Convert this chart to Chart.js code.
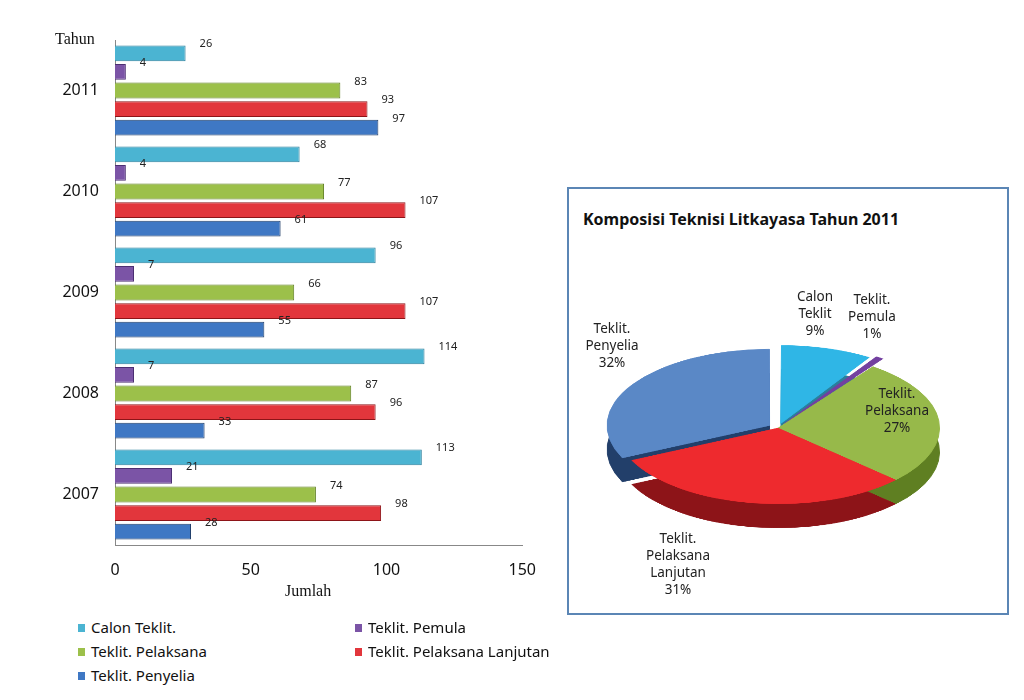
<!DOCTYPE html>
<html lang="id">
<head>
<meta charset="UTF-8">
<title>Teknisi Litkayasa</title>
<script src="https://cdn.jsdelivr.net/npm/chart.js"></script>
<style>
  body { margin: 0; width: 1024px; height: 700px; background: #fff; position: relative; font-family: "Noto Sans", sans-serif; overflow: hidden; }
  .abs { position: absolute; }
  .serif { font-family: "Liberation Serif", serif; font-size: 16px; color: #111; }
  #pieBox { left: 567px; top: 187px; width: 438px; height: 424px; border: 2px solid #5b86b5; }
  #pieTitle { left: 583px; top: 208px; font-weight: bold; font-size: 16px; color: #111; }
  .plab { position: absolute; font-size: 13.5px; line-height: 17px; text-align: center; color: #222; transform: translateX(-50%); white-space: nowrap; }
  .pie { position: absolute; left: 588px; top: 238px; width: 380px; height: 380px; transform: scaleY(0.47); }
  .leg { position: absolute; font-size: 15px; color: #111; }
  .leg i { display: inline-block; width: 7px; height: 8px; margin-right: 6px; vertical-align: 1px; }
</style>
</head>
<body>
<div class="abs" style="left:0;top:0;width:552px;height:600px"><canvas id="barChart"></canvas></div>
<div class="abs serif" style="left:55px;top:30px">Tahun</div>
<div class="abs serif" style="left:285px;top:582px">Jumlah</div>

<div class="abs" id="pieBox"></div>
<div class="abs" id="pieTitle">Komposisi Teknisi Litkayasa Tahun 2011</div>
<div class="pie" style="top:262px"><canvas id="pieDepth"></canvas></div>
<div class="pie"><canvas id="pieChart"></canvas></div>
<div id="pieLabels"></div>

<div id="legend"></div>

<script>
// Data
const years = ['2011', '2010', '2009', '2008', '2007'];
const seriesNames = ['Calon Teklit.', 'Teklit. Pemula', 'Teklit. Pelaksana', 'Teklit. Pelaksana Lanjutan', 'Teklit. Penyelia'];
const calon = [26, 68, 96, 114, 113];
const pemula = [4, 4, 7, 7, 21];
const pelaksana = [83, 77, 66, 87, 74];
const lanjutan = [93, 107, 107, 96, 98];
const penyelia = [97, 61, 55, 33, 28];
const xTicks = [0, 50, 100, 150];

const pieLabels = ['Calon\nTeklit\n9%', 'Teklit.\nPemula\n1%', 'Teklit.\nPelaksana\n27%', 'Teklit.\nPelaksana\nLanjutan\n31%', 'Teklit.\nPenyelia\n32%'];
const pieValues = [9, 1, 27, 31, 32];

const colors = ['#4bb4d2', '#7b54a6', '#9cc04a', '#e2363c', '#3f78c4'];
const darkColors = ['#2a7f9c', '#4c2f72', '#5f7f22', '#8d1418', '#223f6a'];
const pieColors = ['#2fb6e6', '#7340a0', '#97b94a', '#ee2a2e', '#5a88c6'];

// Bar chart
const valueLabels = {
    id: 'valueLabels',
    afterDatasetsDraw(chart) {
        const ctx = chart.ctx;
        ctx.save();
        ctx.font = '11px "Noto Sans"';
        ctx.fillStyle = '#222';
        ctx.textBaseline = 'middle';
        chart.data.datasets.forEach((ds, i) => {
            chart.getDatasetMeta(i).data.forEach((bar, j) => {
                ctx.fillText(ds.data[j], bar.x + 14, bar.y - 9);
            });
        });
        ctx.restore();
    }
};

const seriesData = [calon, pemula, pelaksana, lanjutan, penyelia];
new Chart(document.getElementById('barChart'), {
    type: 'bar',
    data: {
        labels: years,
        datasets: seriesData.map((d, i) => ({
            label: seriesNames[i],
            data: d,
            backgroundColor: colors[i],
            borderColor: darkColors[i],
            borderWidth: 1,
            categoryPercentage: 0.92,
            barPercentage: 0.85
        }))
    },
    options: {
        indexAxis: 'y',
        responsive: true,
        maintainAspectRatio: false,
        animation: false,
        layout: { padding: { right: 20, top: 40 } },
        plugins: { legend: { display: false }, tooltip: { enabled: false } },
        scales: {
            x: {
                min: 0, max: 150,
                afterBuildTicks: s => { s.ticks = xTicks.map(v => ({ value: v })); },
                afterFit: s => { s.height = 55; },
                grid: { display: false, drawTicks: false },
                border: { color: '#888' },
                ticks: { color: '#111', font: { size: 16, family: '"Noto Sans"' }, padding: 16 }
            },
            y: {
                afterFit: s => { s.width = 115; },
                grid: { display: false, drawTicks: false },
                border: { color: '#888' },
                ticks: { color: '#111', font: { size: 16, family: '"Noto Sans"' }, padding: 16 }
            }
        }
    },
    plugins: [valueLabels]
});

// Pie charts (top face + darker depth layer)
const offsets = [40, 40, 0, 0, 40];
function pieConfig(cols) {
    return {
        type: 'pie',
        data: { labels: pieLabels, datasets: [{ data: pieValues, backgroundColor: cols, borderColor: cols, borderWidth: 1, offset: offsets }] },
        options: {
            responsive: true, maintainAspectRatio: true, aspectRatio: 1, animation: false,
            layout: { padding: 8 },
            plugins: { legend: { display: false }, tooltip: { enabled: false } }
        }
    };
}
new Chart(document.getElementById('pieDepth'), pieConfig(darkColors));
new Chart(document.getElementById('pieChart'), pieConfig(pieColors));

const labelPos = [[815, 288], [872, 291], [897, 385], [678, 530], [612, 320]];
const pl = document.getElementById('pieLabels');
pieLabels.forEach((t, i) => {
    const d = document.createElement('div');
    d.className = 'plab';
    d.style.left = labelPos[i][0] + 'px';
    d.style.top = labelPos[i][1] + 'px';
    d.innerHTML = t.split('\n').join('<br>');
    pl.appendChild(d);
});

// Legend
const legPos = [[78, 617], [355, 617], [78, 641], [355, 641], [78, 665]];
const lg = document.getElementById('legend');
seriesNames.forEach((n, i) => {
    const d = document.createElement('div');
    d.className = 'leg';
    d.style.left = legPos[i][0] + 'px';
    d.style.top = legPos[i][1] + 'px';
    d.innerHTML = `<i style="background:${colors[i]}"></i>${n}`;
    lg.appendChild(d);
});
</script>
</body>
</html>
